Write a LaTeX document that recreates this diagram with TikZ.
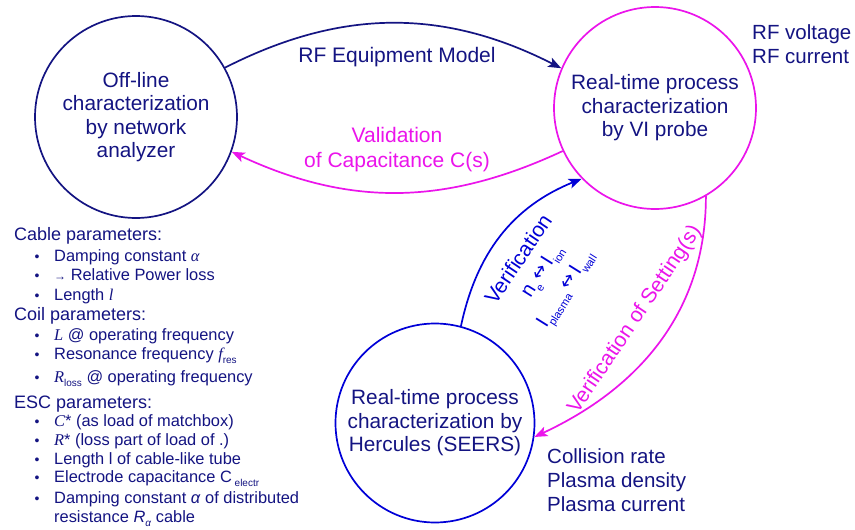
\documentclass[tikz,border=0pt]{standalone}
\usepackage{fontspec}
\setmainfont{Liberation Sans}
\newfontfamily\tnr{Liberation Serif}
\newfontfamily\dvs{DejaVu Sans}
\usetikzlibrary{arrows.meta}
\definecolor{navy}{RGB}{20,20,130}
\definecolor{vblue}{RGB}{0,0,215}
\definecolor{mag}{RGB}{235,20,235}
\newcommand{\fs}[2]{\fontsize{#1}{#2}\selectfont}
\newcommand{\ti}[1]{{\tnr\itshape #1}}
\newcommand{\sbs}[1]{\raisebox{-6pt}{\fs{11}{11}#1}}
\newcommand{\smsub}[1]{\raisebox{-4pt}{\fs{10}{10}#1}}
\newcommand{\dar}{\hspace{3pt}\raisebox{1pt}{\dvs\fs{18}{18}↔}\hspace{3pt}}
\begin{document}
\begin{tikzpicture}[x=1pt,y=1pt,
  bubble/.style={circle,draw,line width=1.7pt,minimum size=202pt,inner sep=0pt,align=center,font=\fs{20.8}{23.5},text=navy},
  conn/.style={line width=1.7pt,-{Stealth[length=13pt,width=10pt,inset=3pt]}},
  big/.style={font=\fs{21}{24},inner sep=0pt},
  side/.style={font=\fs{20.5}{24},inner sep=0pt,text=navy,anchor=base west},
  head/.style={anchor=base west,inner sep=0pt,text=navy,font=\fs{18}{20}},
  itm/.style={anchor=base west,inner sep=0pt,text=navy,font=\fs{16.4}{18}},
  bul/.style={anchor=base,inner sep=0pt,text=navy,font=\fs{14}{14}},
  rot/.style={text=vblue,inner sep=0pt,font=\fs{20}{24}},
]
\path[use as bounding box,fill=white] (0,0) rectangle (855,-530);

% circles
\node[bubble,draw=navy] (L) at (136,-117) {Off-line\\characterization\\by network\\analyzer};
\node[bubble,draw=mag] (R) at (655,-108) {Real-time process\\characterization\\by VI probe};
\node[bubble,draw=vblue,minimum size=199pt] (B) at (435,-423) {Real-time process\\characterization by\\Hercules (SEERS)};

% connectors
\draw[conn,navy] (L.29) to[out=27,in=153] (R.157);
\draw[conn,mag] (R.205) to[out=205,in=-25] (L.-20);
\draw[conn,vblue] (B.75) to[out=78,in=202] (R.224);
\draw[conn,mag] (R.-60) to[out=-90,in=25] (B.-8);

% connector labels
\node[big,text=navy,anchor=base] (rfm) at (397,-62) {RF Equipment Model};
\node[big,text=mag,align=center,font=\fs{21}{25}] (val) at (397,-150) {Validation\\of Capacitance C(s)};
\node[rot,rotate=56,font=\fs{21}{24}] (ver) at (518,-259) {Verification};
\node[rot,rotate=58] (ver1) at (543,-272) {n\sbs{e}\dar I\sbs{ion}};
\node[rot,rotate=58] (ver2) at (567,-290) {I\sbs{plasma}\dar I\sbs{wall}};
\node[big,text=mag,rotate=56] (vs) at (635,-320) {Verification of Setting(s)};

% side labels
\node[side] (rfv) at (752,-39) {RF voltage};
\node[side] (rfc) at (752,-63) {RF current};
\node[side] (col) at (547,-463) {Collision rate};
\node[side] (pd) at (547,-487) {Plasma density};
\node[side] (pc) at (547,-511) {Plasma current};

% parameter list
\node[head] (h1) at (14,-240) {Cable parameters:};
\node[bul] (b1) at (37,-261) {•}; \node[itm] (i1) at (54,-261) {Damping constant \ti{α}};
\node[bul] (b2) at (37,-280) {•}; \node[itm] (i2) at (54,-280) {{\fs{12}{12}→} Relative Power loss};
\node[bul] (b3) at (37,-300) {•}; \node[itm] (i3) at (54,-300) {Length \ti{l}};
\node[head] (h2) at (14,-320) {Coil parameters:};
\node[bul] (b4) at (37,-340) {•}; \node[itm] (i4) at (54,-340) {\ti{L} @ operating frequency};
\node[bul] (b5) at (37,-359) {•}; \node[itm] (i5) at (54,-359) {Resonance frequency \ti{f}\smsub{res}};
\node[bul] (b6) at (37,-382) {•}; \node[itm] (i6) at (54,-382) {\ti{R}\smsub{loss} @ operating frequency};
\node[head] (h3) at (14,-408) {ESC parameters:};
\node[bul] (b7) at (37,-426) {•}; \node[itm] (i7) at (54,-426) {\ti{C}* (as load of matchbox)};
\node[bul] (b8) at (37,-445) {•}; \node[itm] (i8) at (54,-445) {\ti{R}* (loss part of load of .)};
\node[bul] (b9) at (37,-464) {•}; \node[itm] (i9) at (54,-464) {Length l of cable-like tube};
\node[bul] (b10) at (37,-482) {•}; \node[itm] (i10) at (54,-482) {Electrode capacitance C\,\smsub{electr}};
\node[bul] (b11) at (37,-503) {•}; \node[itm] (i11) at (54,-503) {Damping constant \textit{α} of distributed};
\node[itm] (i12) at (54,-522) {resistance \textit{R}\smsub{\textit{α}} cable};
\end{tikzpicture}
\end{document}
